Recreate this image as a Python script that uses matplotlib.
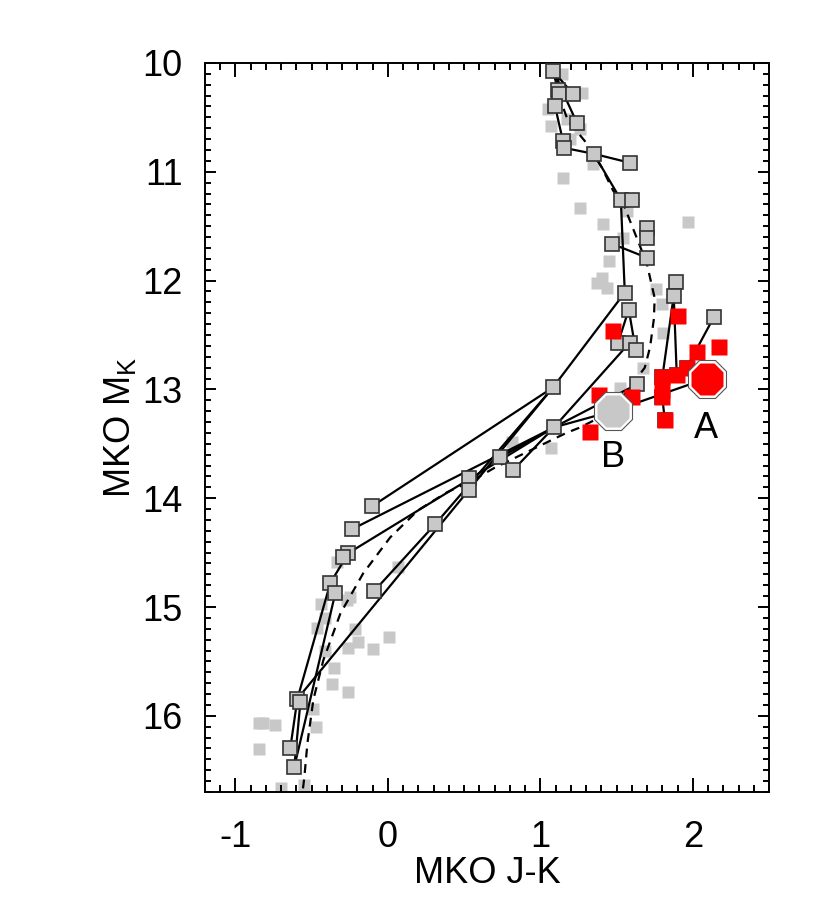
import matplotlib
matplotlib.use("Agg")
import matplotlib.pyplot as plt
from matplotlib.ticker import MultipleLocator

plt.rcParams["font.family"] = ["Liberation Sans", "DejaVu Sans"]
plt.rcParams["axes.unicode_minus"] = False

# field objects (light gray, no outline)
field_jk = [1.141, 1.272, 1.050, 1.069, 1.174, 1.259, 1.194, 1.344, 1.148, 1.259,
            1.567, 1.410, 1.967, 1.541, 1.449, 1.403, 1.371, 1.436, 1.757, 1.796,
            1.803, 1.672, 1.521, 0.814, 1.069, 0.067, -0.332, -0.247, -0.267, -0.437,
            -0.411, -0.463, -0.214, -0.194, -0.260, 0.008, -0.096, -0.411, -0.352, -0.365,
            -0.260, -0.489, -0.470, -0.849, -0.817, -0.738, -0.843, -0.699, -0.548]
field_mk = [10.101, 10.275, 10.422, 10.578, 10.514, 10.606, 10.697, 10.927, 11.055, 11.330,
            11.358, 11.477, 11.459, 11.606, 11.817, 11.972, 12.018, 12.064, 12.073, 12.211,
            12.486, 12.807, 12.991, 13.486, 13.541, 14.633, 14.587, 14.908, 14.936, 14.972,
            15.101, 15.193, 15.202, 15.321, 15.376, 15.275, 15.385, 15.404, 15.560, 15.706,
            15.780, 15.936, 16.101, 16.064, 16.064, 16.083, 16.303, 16.661, 16.633]

# resolved binary components (gray, outlined)
comp_jk = [1.083, 1.115, 1.122, 1.214, 1.096, 1.240, 1.148, 1.155, 1.351, 1.587,
           1.528, 1.600, 1.698, 1.698, 1.469, 1.698, 1.888, 1.875, 1.554, 1.580,
           1.508, 1.587, 1.626, 2.137, 1.633, 1.083, 1.089, 0.735, 0.821, 0.532,
           0.532, 0.310, -0.103, -0.234, -0.260, -0.293, -0.378, -0.345, -0.090, -0.594,
           -0.574, -0.640, -0.614, 1.800, 1.895, 1.960, 1.800, 1.816]
comp_mk = [10.073, 10.248, 10.284, 10.284, 10.394, 10.550, 10.716, 10.780, 10.835, 10.917,
           11.257, 11.257, 11.514, 11.606, 11.661, 11.789, 12.009, 12.138, 12.110, 12.266,
           12.578, 12.569, 12.642, 12.339, 12.954, 12.982, 13.349, 13.624, 13.743, 13.817,
           13.927, 14.239, 14.073, 14.284, 14.505, 14.541, 14.780, 14.872, 14.853, 15.844,
           15.872, 16.294, 16.468, 12.890, 12.870, 12.800, 13.070, 13.280]
# component index pairs joined by a line
links = [(0, 3), (0, 2), (0, 5), (4, 6), (7, 8), (8, 9), (8, 10), (10, 18),
         (19, 20), (19, 22), (14, 15), (16, 17), (16, 43), (17, 44), (23, 45),
         (26, 21), (26, 24), (25, 32), (25, 31), (25, 18), (39, 25), (27, 26),
         (28, 26), (33, 26), (34, 26), (34, 36), (31, 38), (37, 42), (39, 41),
         (40, 42), (36, 39), (46, 47)]

# red objects
red_jk = [1.475, 1.901, 2.170, 2.030, 1.960, 1.895, 1.800, 1.800, 1.800, 1.384, 1.600, 1.325, 1.816]
red_mk = [12.46, 12.33, 12.61, 12.66, 12.80, 12.87, 12.89, 13.01, 13.07, 13.05, 13.07, 13.39, 13.28]

# the two components A and B
ab_jk = [2.091, 1.475]
ab_mk = [12.90, 13.20]
ab_names = ["A", "B"]
ab_colors = ["red", "#c8c8c8"]

# polynomial sequence (dashed)
seq_jk = [1.10, 1.141, 1.181, 1.305, 1.403, 1.476, 1.554, 1.633, 1.698, 1.750, 1.745,
          1.720, 1.685, 1.550, 1.400, 1.260, 1.170, 0.950, 0.700, 0.550, 0.388, 0.198,
          0.015, -0.162, -0.312, -0.424, -0.489, -0.528, -0.548, -0.560]
seq_mk = [10.0, 10.376, 10.53, 10.74, 10.96, 11.17, 11.33, 11.61, 11.84, 12.16, 12.35,
          12.61, 12.80, 13.05, 13.25, 13.35, 13.40, 13.55, 13.72, 13.84, 13.945, 14.11,
          14.36, 14.69, 15.06, 15.49, 15.85, 16.25, 16.56, 16.70]

fig = plt.figure(figsize=(8.3, 9.22), dpi=100)
ax = fig.add_axes([0.247, 0.141, 0.6795, 0.7907])

ax.plot(field_jk, field_mk, "s", ms=8.5, color="#c8c8c8", mec="none", zorder=1)
ax.plot(seq_jk, seq_mk, "--", color="black", lw=1.6, dashes=(4, 3), zorder=2)

for i1, i2 in links:
    ax.plot([comp_jk[i1], comp_jk[i2]], [comp_mk[i1], comp_mk[i2]],
            "-", color="black", lw=1.6, zorder=3)
ax.plot([ab_jk[0], ab_jk[1]], [ab_mk[0], ab_mk[1]], "-", color="black", lw=1.6, zorder=3)
ax.plot([ab_jk[1], comp_jk[26]], [ab_mk[1], comp_mk[26]], "-", color="black", lw=1.6, zorder=3)

ax.plot(comp_jk, comp_mk, "s", ms=9.8, mfc="#c8c8c8", mec="#333333", mew=1.2, zorder=4)
ax.plot(red_jk, red_mk, "s", ms=11.5, color="red", mec="none", zorder=5)

for xx, yy, nm, col in zip(ab_jk, ab_mk, ab_names, ab_colors):
    ax.plot(xx, yy, "8", ms=30, mfc="white", mec="#555555", mew=0.8, zorder=6)
    ax.plot(xx, yy, "8", ms=25.5, mfc=col, mec="none", zorder=7)
ax.text(ab_jk[0] - 0.005, ab_mk[0] + 0.46, "A", fontsize=26, ha="center", va="center")
ax.text(ab_jk[1], ab_mk[1] + 0.43, "B", fontsize=26, ha="center", va="center")

ax.set_xlim(-1.2, 2.5)
ax.set_ylim(16.7, 10)
ax.xaxis.set_major_locator(MultipleLocator(1))
ax.xaxis.set_minor_locator(MultipleLocator(0.1))
ax.yaxis.set_major_locator(MultipleLocator(1))
ax.yaxis.set_minor_locator(MultipleLocator(0.1))
ax.tick_params(which="both", direction="in", top=True, right=True, width=1.4,
               labelsize=26)
ax.tick_params(axis="x", which="major", length=10, pad=20)
ax.tick_params(axis="x", which="minor", length=5)
ax.tick_params(axis="y", which="major", length=8, pad=16)
ax.tick_params(axis="y", which="minor", length=4.3)
for sp in ax.spines.values():
    sp.set_linewidth(1.4)

ax.set_xlabel("MKO J-K", fontsize=26, labelpad=1)
ax.set_ylabel(r"MKO M$_\mathregular{K}$", fontsize=26, labelpad=3)

fig.savefig("out.png", dpi=100)
